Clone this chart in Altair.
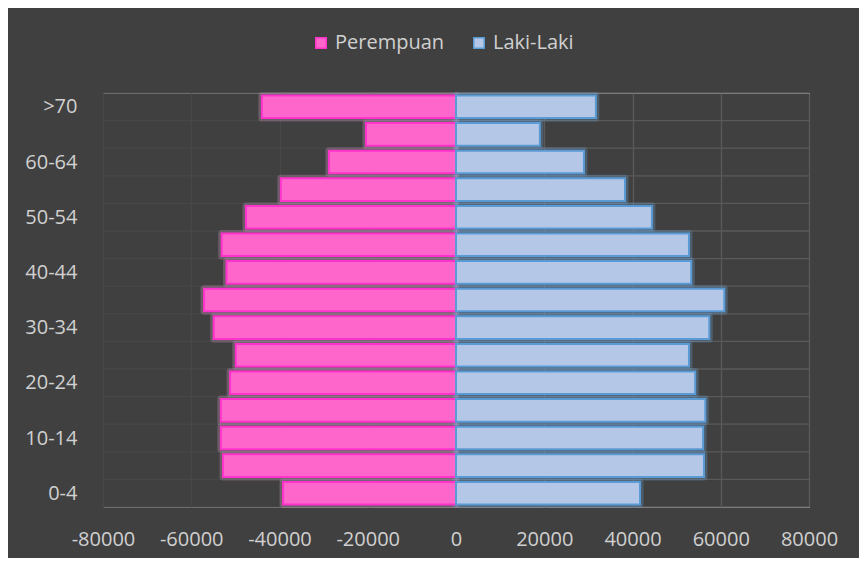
import altair as alt
import pandas as pd

ages = ['0-4', '5-9', '10-14', '15-19', '20-24', '25-29', '30-34', '35-39',
        '40-44', '45-49', '50-54', '55-59', '60-64', '65-69', '>70']
perempuan = [-39200, -52800, -53300, -53300, -51200, -49900, -54900, -57100,
             -52000, -53100, -47600, -39700, -28800, -20400, -44000]
laki = [41700, 56200, 56000, 56500, 54200, 52800, 57400, 60800,
        53300, 52800, 44400, 38300, 29000, 19000, 31700]
series = ['Perempuan', 'Laki-Laki']
fills = ['#ff66cc', '#b4c7e7']
strokes = ['#ff33cc', '#5b9bd5']
x_ticks = [-80000, -60000, -40000, -20000, 0, 20000, 40000, 60000, 80000]

rows = []
for i, a in enumerate(ages):
    rows.append({'idx': i, 'age': a, 'sex': 'Perempuan', 'value': perempuan[i]})
    rows.append({'idx': i, 'age': a, 'sex': 'Laki-Laki', 'value': laki[i]})
df = pd.DataFrame(rows)
bounds = pd.DataFrame({'b': list(range(len(ages) + 1))})

ages_js = "[" + ",".join("'" + a + "'" for a in ages) + "]"
n = len(ages)

xscale = alt.Scale(domain=[-80000, 80000], nice=False, zero=False)
yscale = alt.Scale(domain=[0, n], nice=False, zero=False)

x_axis = alt.Axis(
    values=x_ticks, labelExpr="'' + datum.value", title=None,
    grid=True, gridColor=alt.condition("datum.value < 0", alt.value('#474747'), alt.value('#5a5a5a')),
    gridWidth=1.3, ticks=False, domain=False, labelPadding=22, labelOverlap=False,
    labelFlush=False,
    labelFontSize=20, labelColor='#d0d0d0', labelFont='Open Sans')
y_axis = alt.Axis(
    values=list(range(n + 1)),
    labelExpr=f"(datum.value % 2 == 0 && datum.value < {n}) ? {ages_js}[datum.value] : ''",
    title=None, grid=False, ticks=False, tickSize=0, domain=False, labelOverlap=False,
    labelFlush=False,
    labelOffset=-13.8, labelPadding=26, labelAlign='right', labelBaseline='middle',
    labelFontSize=20, labelColor='#d0d0d0', labelFont='Open Sans')

hgrid_r = alt.Chart(bounds).mark_rule(color='#5a5a5a', strokeWidth=1.3).encode(
    y=alt.Y('b:Q', scale=yscale, axis=y_axis),
    x=alt.datum(0, scale=xscale, axis=x_axis), x2=alt.datum(80000))
hgrid_l = alt.Chart(bounds).mark_rule(color='#474747', strokeWidth=1.3).encode(
    y=alt.Y('b:Q', scale=yscale),
    x=alt.datum(-80000), x2=alt.datum(0))

base = alt.Chart(df).transform_calculate(
    lo='datum.idx + 0.09', hi='datum.idx + 0.91')

glow = base.mark_bar(strokeWidth=7, strokeOpacity=0.28, fillOpacity=0, strokeJoin='round').encode(
    x=alt.X('value:Q', scale=xscale),
    x2=alt.datum(0),
    y=alt.Y('lo:Q', scale=yscale),
    y2='hi:Q',
    stroke=alt.condition("datum.sex == 'Perempuan'", alt.value('#d9a0cc'), alt.value('#6fa8e0')))

bars = base.mark_bar(strokeWidth=2).encode(
    x=alt.X('value:Q', scale=xscale),
    x2=alt.datum(0),
    y=alt.Y('lo:Q', scale=yscale),
    y2='hi:Q',
    fill=alt.Fill('sex:N', scale=alt.Scale(domain=series, range=fills),
                  legend=alt.Legend(title=None, orient='none', legendX=208, legendY=-60,
                                    direction='horizontal', symbolType='square',
                                    symbolSize=110, symbolStrokeWidth=1.5,
                                    labelFontSize=20, labelColor='#d0d0d0',
                                    labelFont='Open Sans', columnPadding=24,
                                    symbolOpacity=1, labelOffset=4)),
    stroke=alt.Stroke('sex:N', scale=alt.Scale(domain=series, range=strokes)))

chart = alt.layer(hgrid_l, hgrid_r, glow, bars).properties(
    width=706, height=414,
    autosize=alt.AutoSizeParams(type='none'),
    padding={'left': 95, 'right': 50, 'top': 85, 'bottom': 51},
    background='#404040'
).configure_view(stroke=None).configure(font='Open Sans')

chart.save("out.html", embed_options={"renderer": "svg", "actions": False})
